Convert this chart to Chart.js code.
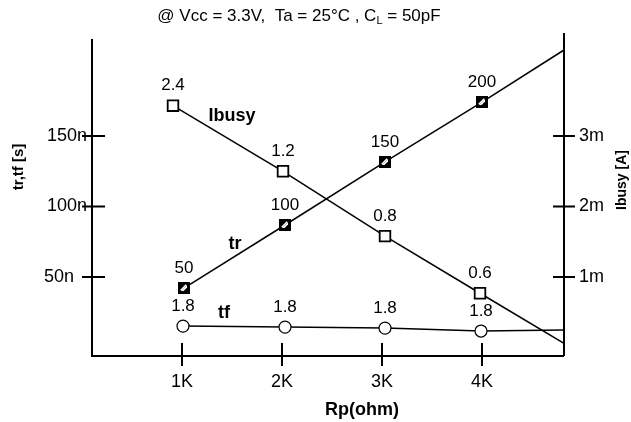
<!DOCTYPE html>
<html lang="en">
<head>
    <meta charset="UTF-8">
    <title>tr, tf and Ibusy vs Rp</title>
    <script src="https://cdn.jsdelivr.net/npm/chart.js"></script>
    <style>
        body {
            margin: 0;
            background: #ffffff;
        }
        #wrap {
            width: 631px;
            height: 422px;
        }
    </style>
</head>
<body>
    <div id="wrap">
        <canvas id="rpChart" width="631" height="422"></canvas>
    </div>

    <script>
        // values (x in kohm, tr/tf in ns, Ibusy in mA)
        // last point of each series is where the line runs into the right axis
        const trX = [1.02, 2.03, 3.03, 4.0, 4.82];
        const trNs = [42.2, 86.9, 131.6, 174.1, 211.0];
        const trLabels = ['50', '100', '150', '200'];

        const ibusyX = [0.91, 2.01, 3.03, 3.98, 4.82];
        const ibusyMA = [3.43, 2.50, 1.58, 0.77, 0.06];
        const ibusyLabels = ['2.4', '1.2', '0.8', '0.6'];

        const tfX = [1.01, 2.03, 3.03, 3.99, 4.82];
        const tfNs = [15.2, 14.5, 13.8, 11.7, 12.4];
        const tfLabels = ['1.8', '1.8', '1.8', '1.8'];

        const xTicks = [1, 2, 3, 4];
        const xTickLabels = ['1K', '2K', '3K', '4K'];
        const leftTicks = [50, 100, 150];
        const leftTickLabels = ['50n', '100n', '150n'];
        const rightTicks = [1, 2, 3];
        const rightTickLabels = ['1m', '2m', '3m'];

        const FONT = 'Arial, "Liberation Sans", sans-serif';

        function pts(xs, ys) {
            return xs.map((x, i) => ({ x: x, y: ys[i] }));
        }

        // hatched square marker used for tr
        function hatchSquare() {
            const c = document.createElement('canvas');
            c.width = 12;
            c.height = 12;
            const g = c.getContext('2d');
            g.fillStyle = '#000';
            g.fillRect(0, 0, 12, 12);
            g.fillStyle = '#fff';
            g.beginPath();
            g.moveTo(3, 9);
            g.lineTo(9, 3);
            g.lineTo(9, 5.5);
            g.lineTo(5.5, 9);
            g.closePath();
            g.fill();
            g.strokeStyle = '#fff';
            g.lineWidth = 1.6;
            g.beginPath();
            g.moveTo(2.8, 8.2);
            g.lineTo(8.2, 2.8);
            g.stroke();
            return c;
        }
        const trMarker = hatchSquare();

        function lastHidden(n, r) {
            return Array.from({ length: n }, (_, i) => i === n - 1 ? 0 : r);
        }

        // axes, tick marks, tick labels, titles and text labels
        const decorations = {
            id: 'decorations',
            afterDatasetsDraw(chart) {
                const ctx = chart.ctx;
                const a = chart.chartArea;
                const sx = chart.scales.x, sy = chart.scales.y, sy1 = chart.scales.y1;
                ctx.save();
                ctx.strokeStyle = '#000';
                ctx.lineWidth = 2;
                ctx.beginPath();
                ctx.moveTo(a.left, a.top);
                ctx.lineTo(a.left, a.bottom);
                ctx.lineTo(a.right, a.bottom);
                ctx.moveTo(a.right, a.top - 6);
                ctx.lineTo(a.right, a.bottom);
                xTicks.forEach(v => {
                    const px = sx.getPixelForValue(v);
                    ctx.moveTo(px, a.bottom - 13);
                    ctx.lineTo(px, a.bottom + 10);
                });
                leftTicks.forEach(v => {
                    const py = sy.getPixelForValue(v);
                    ctx.moveTo(a.left - 10, py);
                    ctx.lineTo(a.left + 13, py);
                });
                rightTicks.forEach(v => {
                    const py = sy1.getPixelForValue(v);
                    ctx.moveTo(a.right - 11, py);
                    ctx.lineTo(a.right + 11, py);
                });
                ctx.stroke();

                ctx.fillStyle = '#000';
                ctx.textBaseline = 'middle';

                // tick labels
                ctx.font = '18px ' + FONT;
                ctx.textAlign = 'center';
                xTicks.forEach((v, i) => {
                    ctx.fillText(xTickLabels[i], sx.getPixelForValue(v), a.bottom + 26);
                });
                ctx.textAlign = 'right';
                leftTicks.forEach((v, i) => {
                    const gap = leftTickLabels[i].length < 4 ? 18 : 5;
                    ctx.fillText(leftTickLabels[i], a.left - gap, sy.getPixelForValue(v));
                });
                ctx.textAlign = 'left';
                rightTicks.forEach((v, i) => {
                    ctx.fillText(rightTickLabels[i], a.right + 15, sy1.getPixelForValue(v));
                });

                // value labels above markers
                ctx.font = '17px ' + FONT;
                ctx.textAlign = 'center';
                const groups = [[0, trLabels], [1, ibusyLabels], [2, tfLabels]];
                groups.forEach(([di, labels]) => {
                    const meta = chart.getDatasetMeta(di);
                    labels.forEach((t, i) => {
                        const el = meta.data[i];
                        ctx.fillText(t, el.x, el.y - 20);
                    });
                });

                // series names
                ctx.font = 'bold 18px ' + FONT;
                ctx.fillText('Ibusy', sx.getPixelForValue(1.5), sy1.getPixelForValue(3.28));
                ctx.fillText('tr', sx.getPixelForValue(1.53), sy.getPixelForValue(73.4));
                ctx.fillText('tf', sx.getPixelForValue(1.42), sy.getPixelForValue(24.5));

                // axis titles
                ctx.font = 'bold 18px ' + FONT;
                ctx.fillText('Rp(ohm)', (a.left + a.right) / 2 + 34, 410);
                ctx.font = 'bold 15px ' + FONT;
                ctx.save();
                ctx.translate(19, 167);
                ctx.rotate(-Math.PI / 2);
                ctx.fillText('tr,tf [s]', 0, 0);
                ctx.restore();
                ctx.font = 'bold 14px ' + FONT;
                ctx.save();
                ctx.translate(622, 180);
                ctx.rotate(-Math.PI / 2);
                ctx.fillText('Ibusy [A]', 0, 0);
                ctx.restore();

                // condition line with subscript L
                const parts = [
                    ['@ Vcc = 3.3V,  Ta = 25°C , C', '17px'],
                    ['L', '11px'],
                    [' = 50pF', '17px']
                ];
                let w = 0;
                parts.forEach(p => {
                    ctx.font = p[1] + ' ' + FONT;
                    w += ctx.measureText(p[0]).width;
                });
                let x = 299 - w / 2;
                ctx.textAlign = 'left';
                parts.forEach(p => {
                    ctx.font = p[1] + ' ' + FONT;
                    ctx.fillText(p[0], x, p[1] === '11px' ? 21 : 16);
                    x += ctx.measureText(p[0]).width;
                });
                ctx.restore();
            }
        };

        new Chart(document.getElementById('rpChart'), {
            type: 'line',
            data: {
                datasets: [
                    {
                        label: 'tr',
                        data: pts(trX, trNs),
                        yAxisID: 'y',
                        borderColor: '#000',
                        borderWidth: 1.5,
                        pointStyle: trMarker,
                        pointRadius: lastHidden(trX.length, 6),
                        tension: 0
                    },
                    {
                        label: 'Ibusy',
                        data: pts(ibusyX, ibusyMA),
                        yAxisID: 'y1',
                        borderColor: '#000',
                        borderWidth: 1.5,
                        pointStyle: 'rect',
                        pointRadius: lastHidden(ibusyX.length, 7.5),
                        pointBackgroundColor: '#fff',
                        pointBorderColor: '#000',
                        pointBorderWidth: 1.8,
                        tension: 0
                    },
                    {
                        label: 'tf',
                        data: pts(tfX, tfNs),
                        yAxisID: 'y',
                        borderColor: '#000',
                        borderWidth: 1.5,
                        pointStyle: 'circle',
                        pointRadius: lastHidden(tfX.length, 6),
                        pointBackgroundColor: '#fff',
                        pointBorderColor: '#000',
                        pointBorderWidth: 1.2,
                        tension: 0
                    }
                ]
            },
            options: {
                responsive: false,
                animation: false,
                events: [],
                layout: { padding: { top: 39, left: 0, right: 0, bottom: 0 } },
                plugins: {
                    legend: { display: false },
                    tooltip: { enabled: false },
                    title: { display: false }
                },
                scales: {
                    x: {
                        type: 'linear',
                        min: 0.1,
                        max: 4.82,
                        grid: { display: false },
                        border: { display: false },
                        afterBuildTicks: s => { s.ticks = xTicks.map(v => ({ value: v })); },
                        afterFit: s => { s.height = 66; },
                        ticks: { display: false }
                    },
                    y: {
                        type: 'linear',
                        position: 'left',
                        min: -6,
                        max: 218.8,
                        grid: { display: false },
                        border: { display: false },
                        afterBuildTicks: s => { s.ticks = leftTicks.map(v => ({ value: v })); },
                        afterFit: s => { s.width = 92; },
                        ticks: { display: false }
                    },
                    y1: {
                        type: 'linear',
                        position: 'right',
                        min: -0.12,
                        max: 4.376,
                        grid: { display: false },
                        border: { display: false },
                        afterBuildTicks: s => { s.ticks = rightTicks.map(v => ({ value: v })); },
                        afterFit: s => { s.width = 67; },
                        ticks: { display: false }
                    }
                }
            },
            plugins: [decorations]
        });
    </script>
</body>
</html>
